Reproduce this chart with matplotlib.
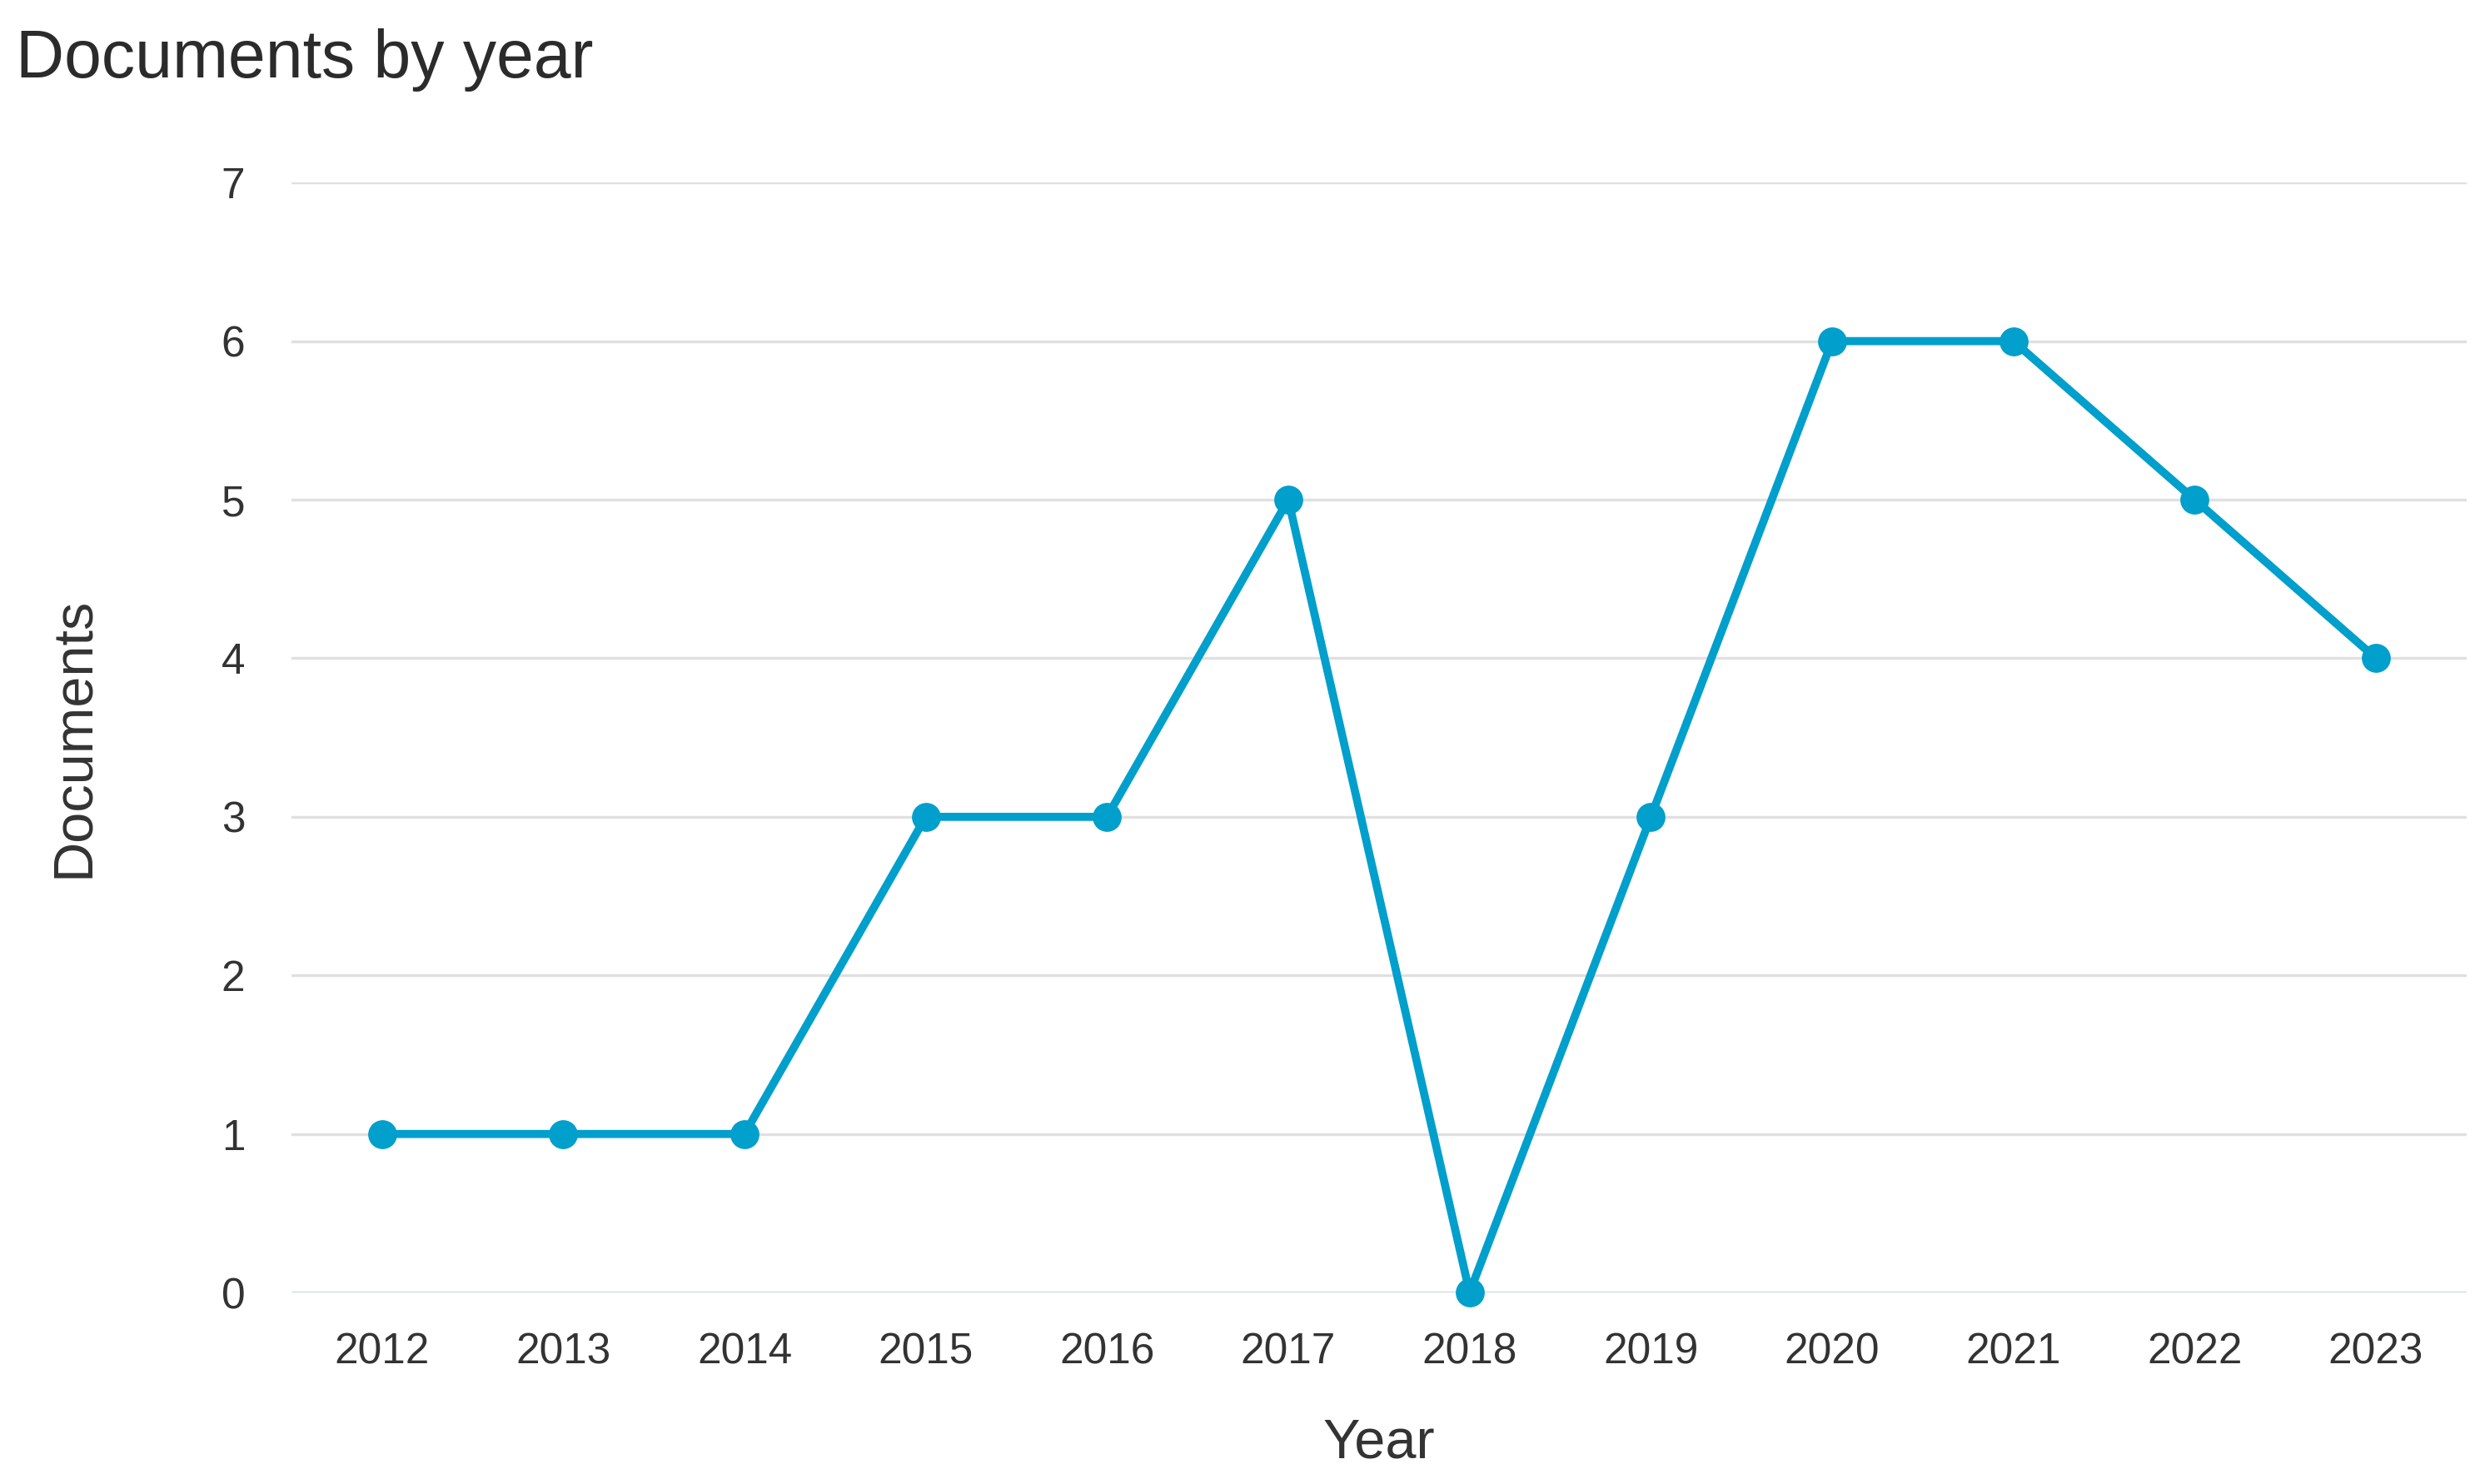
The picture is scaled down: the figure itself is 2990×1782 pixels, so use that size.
import matplotlib
matplotlib.use("Agg")
import matplotlib.pyplot as plt

# Data
years = [2012, 2013, 2014, 2015, 2016, 2017, 2018, 2019, 2020, 2021, 2022, 2023]
documents = [1, 1, 1, 3, 3, 5, 0, 3, 6, 6, 5, 4]
y_ticks = [0, 1, 2, 3, 4, 5, 6, 7]

LINE_COLOR = '#009fcc'
TEXT_COLOR = '#333333'

plt.rcParams['font.family'] = ['Liberation Sans', 'DejaVu Sans']

fig = plt.figure(figsize=(29.9, 17.82), dpi=100)
ax = fig.add_axes([0.117, 0.129, 0.8736, 0.748])

# Grid lines
for v in y_ticks:
    color = '#ccd6eb' if v == 0 else '#e0e0e0'
    ax.axhline(v, color=color, linewidth=2.4, zorder=1)

ax.plot(years, documents, color=LINE_COLOR, linewidth=7, marker='o',
        markersize=24, zorder=3, clip_on=False)

ax.set_xlim(2011.5, 2023.5)
ax.set_ylim(0, 7)
ax.set_xticks(years)
ax.set_xticklabels([str(y) for y in years])
ax.set_yticks(y_ticks)
ax.tick_params(axis='both', length=0, labelsize=37, colors=TEXT_COLOR)
ax.tick_params(axis='y', pad=40)
ax.tick_params(axis='x', pad=34)
for s in ax.spines.values():
    s.set_visible(False)

ax.set_xlabel('Year', fontsize=48, color=TEXT_COLOR)
ax.set_ylabel('Documents', fontsize=48, color=TEXT_COLOR)
ax.xaxis.set_label_coords(0.5, -0.113)
ax.yaxis.set_label_coords(-0.088, 0.5)

fig.text(19 / 2990, 1 - 72 / 1782, 'Documents by year', fontsize=58,
         color='#2b2b2b', ha='left', va='center')

fig.savefig('out.png', dpi=100, facecolor='white')
